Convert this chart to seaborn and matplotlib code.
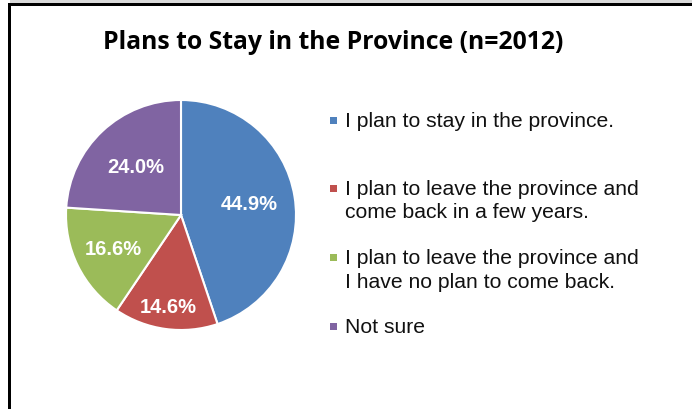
import matplotlib
matplotlib.use("Agg")
import matplotlib.pyplot as plt
import seaborn as sns
import numpy as np
from matplotlib.patches import Rectangle

# Chart data
categories = [
    "I plan to stay in the province.",
    "I plan to leave the province and\ncome back in a few years.",
    "I plan to leave the province and\nI have no plan to come back.",
    "Not sure",
]
shares = [44.9, 14.6, 16.6, 24.0]
pct_labels = ["44.9%", "14.6%", "16.6%", "24.0%"]
title = "Plans to Stay in the Province (n=2012)"

sns.set_theme(style="white")
plt.rcParams['font.family'] = ['Liberation Sans', 'DejaVu Sans']
colors = ["#4F81BD", "#C0504D", "#9BBB59", "#8064A2"]

W, H = 692, 410
fig = plt.figure(figsize=(W / 100, H / 100), dpi=100)
fig.patch.set_facecolor("white")

# pie axes, centre (181, 216) px, radius 115 px
cx, cy, r = 181, 216, 115
ax = fig.add_axes([(cx - r) / W, (H - cy - r) / H, 2 * r / W, 2 * r / H])
wedges, _ = ax.pie(shares, colors=colors, startangle=90, counterclock=False,
                   wedgeprops=dict(edgecolor="white", linewidth=1.5))
ax.set_xlim(-1.0, 1.0)
ax.set_ylim(-1.0, 1.0)
ax.axis("off")

# percentage labels inside the slices
label_dist = [0.6, 0.8, 0.66, 0.58]
for w, lab, d in zip(wedges, pct_labels, label_dist):
    ang = np.deg2rad((w.theta1 + w.theta2) / 2)
    ax.text(d * np.cos(ang), d * np.sin(ang), lab, color="white",
            fontsize=14.5, fontweight="bold", ha="center", va="center")

# title
fig.text(333 / W, 1 - 49 / H, title, ha="center", va="baseline",
         fontsize=17.8, fontweight="bold", color="black",
         family=["Open Sans", "DejaVu Sans"])

# legend entries (Excel style: marker next to first line)
leg_y = [121, 189, 258, 327]
for lab, col, y in zip(categories, colors, leg_y):
    fig.add_artist(Rectangle((330 / W, 1 - (y + 3.5) / H), 7 / W, 7 / H,
                             transform=fig.transFigure, color=col, lw=0))
    fig.text(345 / W, 1 - (y - 9) / H, lab, ha="left", va="top",
             fontsize=15.2, linespacing=1.3, color="#111111")

# frame: grey strip on top, black top and left rules
fig.add_artist(Rectangle((10 / W, 1 - 4 / H), 1, 4 / H, transform=fig.transFigure,
                         color="#d9d9d9", lw=0))
fig.add_artist(Rectangle((8 / W, 1 - 7 / H), 1, 3 / H, transform=fig.transFigure,
                         color="black", lw=0))
fig.add_artist(Rectangle((8 / W, 0), 2.5 / W, 1 - 4 / H, transform=fig.transFigure,
                         color="black", lw=0))

fig.savefig("out.png", dpi=100)
